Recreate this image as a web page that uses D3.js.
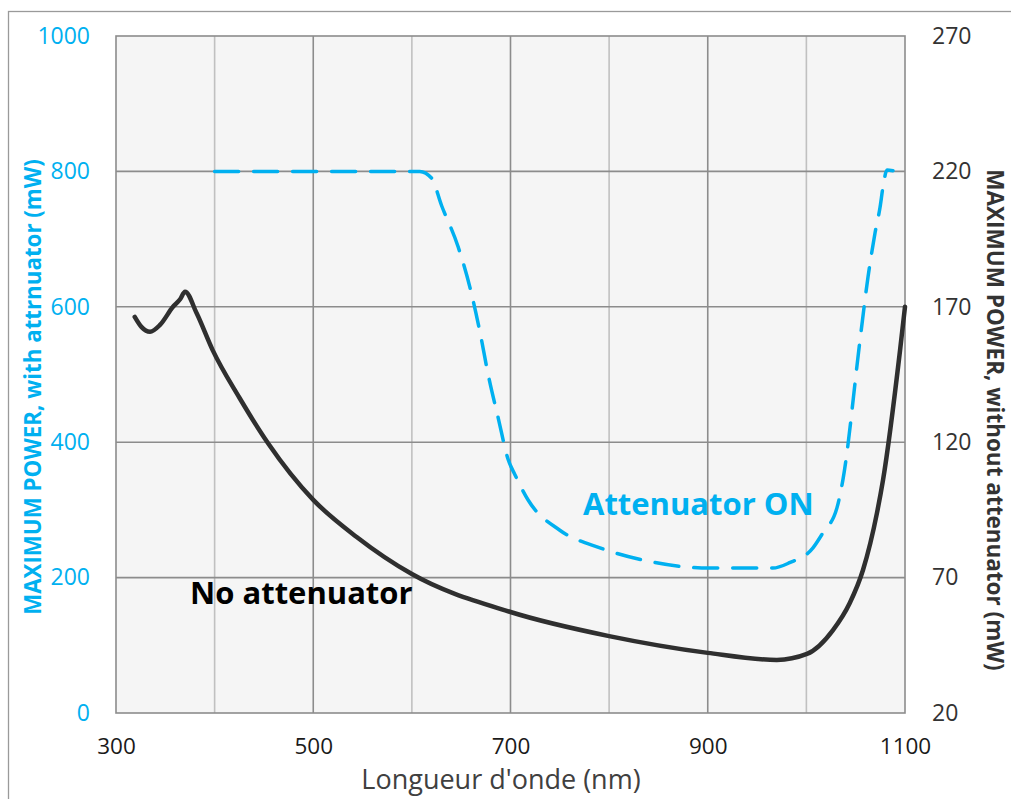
<!DOCTYPE html>
<html>
<head>
<meta charset="utf-8">
<script src="https://cdn.jsdelivr.net/npm/d3@7"></script>
<style>
  html, body { margin: 0; padding: 0; background: #ffffff; }
  svg { display: block; }
</style>
</head>
<body>
<svg id="chart" width="1011" height="799"></svg>
<script>
// ---- data ----
const xTickValues = [300, 500, 700, 900, 1100];
const xGridValues = [400, 500, 600, 700, 800, 900, 1000];
const leftTickValues = [0, 200, 400, 600, 800, 1000];
const rightTickValues = [20, 70, 120, 170, 220, 270];

// No attenuator (right axis, mW)
const noAttWavelength = [319, 326, 334.5, 344.6, 357.8, 365, 370, 381.8, 398, 425, 454, 500, 544, 600, 700, 800, 900, 970, 1000.6, 1027, 1044, 1057.4, 1071.6, 1077.7, 1095, 1100];
const noAttPower = [166.3, 162.5, 160.8, 163.3, 170, 172.8, 175.6, 167.6, 154, 136.5, 119.7, 98.7, 85, 71.3, 57.3, 48.4, 42.2, 39.6, 41.8, 50.6, 60.6, 72.8, 93.9, 106, 154, 170];

// Attenuator ON (left axis, mW)
const attWavelength = [400, 500, 608, 620, 630, 646.8, 659, 669, 677.5, 687.5, 697.7, 704.5, 717.7, 750, 790.7, 834, 902, 966, 983, 1006.7, 1016.7, 1031, 1037, 1054.4, 1062.5, 1069.6, 1074.7, 1077.7, 1081.8, 1087.8];
const attPower = [800, 800, 800, 790, 750, 689, 628, 563, 499, 436, 374, 352, 315, 270, 244, 226, 214, 214, 222, 244, 266, 303, 344, 551, 644, 709, 747, 777, 802, 801];

const xTitle = "Longueur d'onde (nm)";
const leftTitle = "MAXIMUM POWER, with attrnuator (mW)";
const rightTitle = "MAXIMUM POWER, without attenuator (mW)";
const labelOn = "Attenuator ON";
const labelNo = "No attenuator";

// ---- layout ----
const plot = { left: 116, right: 905, top: 36, bottom: 713 };
const blue = "#00b0f0";
const font = "'Open Sans', 'Noto Sans', sans-serif";

const svg = d3.select("#chart");

// outer border
svg.append("rect")
  .attr("x", 8.5).attr("y", 11.5)
  .attr("width", 1020).attr("height", 800)
  .attr("fill", "none").attr("stroke", "#9a9a9a").attr("stroke-width", 1.3);

const x = d3.scaleLinear().domain([300, 1100]).range([plot.left, plot.right]);
const yL = d3.scaleLinear().domain([0, 1000]).range([plot.bottom, plot.top]);
const yR = d3.scaleLinear().domain([20, 270]).range([plot.bottom, plot.top]);

// plot background
svg.append("rect")
  .attr("x", plot.left).attr("y", plot.top)
  .attr("width", plot.right - plot.left).attr("height", plot.bottom - plot.top)
  .attr("fill", "#f5f5f5");

// vertical grid
svg.append("g").selectAll("line").data(xGridValues).join("line")
  .attr("x1", d => x(d)).attr("x2", d => x(d))
  .attr("y1", plot.top).attr("y2", plot.bottom)
  .attr("stroke", d => (d % 200 === 100) ? "#8c8c8c" : "#c0c0c0")
  .attr("stroke-width", 1.6);

// horizontal grid
svg.append("g").selectAll("line").data(leftTickValues.filter(d => d > 0 && d < 1000)).join("line")
  .attr("x1", plot.left).attr("x2", plot.right)
  .attr("y1", d => yL(d)).attr("y2", d => yL(d))
  .attr("stroke", "#8c8c8c").attr("stroke-width", 1.6);

// plot frame
svg.append("rect")
  .attr("x", plot.left).attr("y", plot.top)
  .attr("width", plot.right - plot.left).attr("height", plot.bottom - plot.top)
  .attr("fill", "none").attr("stroke", "#8c8c8c").attr("stroke-width", 1.6);

// axes with d3 (labels only)
const axB = svg.append("g").attr("transform", `translate(0,${plot.bottom})`)
  .call(d3.axisBottom(x).tickValues(xTickValues).tickSize(0).tickPadding(25).tickFormat(d3.format("d")));
axB.select(".domain").remove();
axB.selectAll("text").attr("font-family", font).attr("font-size", 22.5).attr("fill", "#1a1a1a");

const axL = svg.append("g").attr("transform", `translate(${plot.left},0)`)
  .call(d3.axisLeft(yL).tickValues(leftTickValues).tickSize(0).tickPadding(26).tickFormat(d3.format("d")));
axL.select(".domain").remove();
axL.selectAll("text").attr("font-family", font).attr("font-size", 23).attr("fill", blue);

const axR = svg.append("g").attr("transform", `translate(${plot.right},0)`)
  .call(d3.axisRight(yR).tickValues(rightTickValues).tickSize(0).tickPadding(27).tickFormat(d3.format("d")));
axR.select(".domain").remove();
axR.selectAll("text").attr("font-family", font).attr("font-size", 23).attr("fill", "#333333");

// axis titles
svg.append("text")
  .attr("x", 501).attr("y", 789)
  .attr("text-anchor", "middle").attr("font-family", font).attr("font-size", 27)
  .attr("fill", "#404040").text(xTitle);

svg.append("text")
  .attr("transform", `translate(41,387) rotate(-90)`)
  .attr("text-anchor", "middle").attr("font-family", font).attr("font-size", 22.3).attr("font-weight", "bold")
  .attr("fill", blue).text(leftTitle);

svg.append("text")
  .attr("transform", `translate(987,420) rotate(90)`)
  .attr("text-anchor", "middle").attr("font-family", font).attr("font-size", 22.5).attr("font-weight", "bold")
  .attr("fill", "#333333").text(rightTitle);

// lines
const attData = attWavelength.map((w, i) => [w, attPower[i]]);
const noAttData = noAttWavelength.map((w, i) => [w, noAttPower[i]]);

svg.append("path")
  .datum(attData)
  .attr("fill", "none").attr("stroke", blue).attr("stroke-width", 3.5)
  .attr("stroke-linecap", "round").attr("stroke-dasharray", "24,15")
  .attr("d", d3.line().x(d => x(d[0])).y(d => yL(d[1])).curve(d3.curveMonotoneX));

svg.append("path")
  .datum(noAttData)
  .attr("fill", "none").attr("stroke", "#2f2f2f").attr("stroke-width", 4.5)
  .attr("stroke-linejoin", "round").attr("stroke-linecap", "round")
  .attr("d", d3.line().x(d => x(d[0])).y(d => yR(d[1])).curve(d3.curveMonotoneX));

// annotations
svg.append("text")
  .attr("x", 583).attr("y", 515)
  .attr("font-family", font).attr("font-size", 31).attr("font-weight", "bold")
  .attr("fill", blue).text(labelOn);

svg.append("text")
  .attr("x", 190).attr("y", 604)
  .attr("font-family", font).attr("font-size", 31).attr("font-weight", "bold")
  .attr("fill", "#000000").text(labelNo);
</script>
</body>
</html>
